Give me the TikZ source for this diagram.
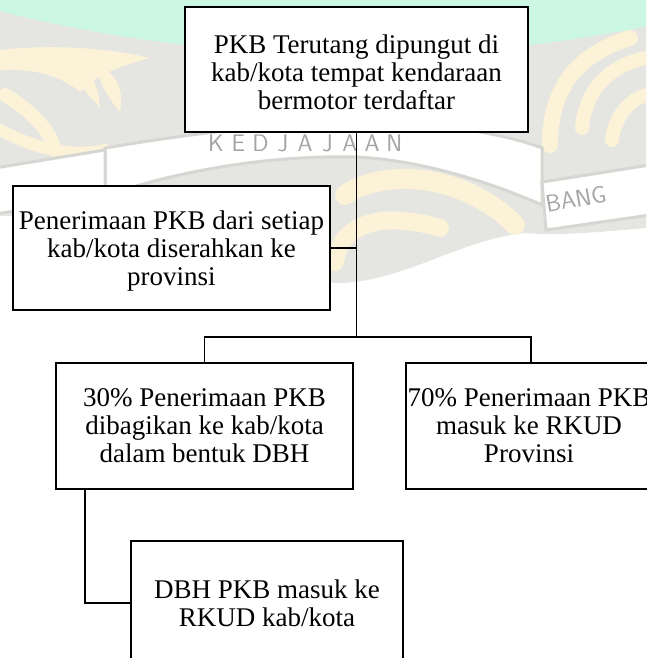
\documentclass[tikz,border=0pt]{standalone}
\usepackage{fontspec}
\setmainfont{Liberation Serif}
\definecolor{mint}{RGB}{204,247,226}
\definecolor{yel}{RGB}{252,242,216}
\definecolor{wmgrey}{RGB}{229,229,225}
\definecolor{ribbon}{RGB}{214,214,210}
\definecolor{wmtext}{RGB}{165,165,165}
\begin{document}
\begin{tikzpicture}[x=1pt,y=-1pt,
  box/.style={draw=black,line width=1.9pt,fill=white,inner sep=0pt},
  txt/.style={align=center,inner sep=0pt,font=\fontsize{27}{28}\selectfont},
  conn/.style={draw=black,line width=1.9pt},
  wm/.style={font=\sffamily\fontsize{24}{24}\selectfont,text=wmtext,inner sep=0pt},
  swirl/.style={draw=yel,line cap=round}]
\useasboundingbox (0,0) rectangle (646,658);
% ---- faint watermark ----
\begin{scope}
\clip (0,0) rectangle (646,658);
\fill[wmgrey] (0,0) -- (646,0) -- (646,228) .. controls (600,232) and (560,236) .. (525,233)
  .. controls (460,240) and (410,278) .. (345,283) .. controls (300,286) and (255,240) .. (200,216)
  -- (0,216) -- cycle;
\fill[mint] (357,-1408) circle[radius=1463pt];
% left swirls
\fill[yel] (0,50) .. controls (50,44) and (110,48) .. (150,58) .. controls (120,66) and (95,75) .. (80,92)
  .. controls (60,75) and (30,68) .. (0,70) -- cycle;
\fill[yel] (62,58) .. controls (80,55) and (98,75) .. (100,108) .. controls (90,95) and (72,80) .. (62,58) -- cycle;
\fill[yel] (95,65) .. controls (115,70) and (125,90) .. (120,112) .. controls (110,100) and (100,85) .. (95,65) -- cycle;
\draw[swirl,line width=14pt] (5,95) .. controls (30,110) and (50,130) .. (55,150);
\draw[swirl,line width=12pt] (0,130) .. controls (20,140) and (60,160) .. (105,150);
% right swirls
\draw[swirl,line width=16pt] (550,145) .. controls (550,90) and (575,55) .. (630,38);
\draw[swirl,line width=14pt] (582,128) .. controls (585,90) and (610,65) .. (646,58);
\draw[swirl,line width=14pt] (612,140) .. controls (615,115) and (630,100) .. (646,95);
% centre swirls
\draw[swirl,line width=20pt] (345,195) .. controls (380,170) and (460,170) .. (515,225);
\draw[swirl,line width=18pt] (335,262) .. controls (340,225) and (380,210) .. (440,228);
% ribbon
\filldraw[fill=white,draw=ribbon,line width=3pt] (105,148) .. controls (200,132) and (290,122) .. (357,122)
  .. controls (430,122) and (500,132) .. (542,148) -- (542,205) .. controls (490,182) and (420,160) .. (357,157)
  .. controls (270,155) and (180,170) .. (105,196) -- cycle;
\filldraw[fill=white,draw=ribbon,line width=3pt] (542,182) -- (650,165) -- (650,215) -- (546,230) -- cycle;
\filldraw[fill=white,draw=ribbon,line width=3pt] (-5,168) -- (105,150) -- (105,198) -- (-5,214) -- cycle;
\foreach \l [count=\i from 0] in {K,E,D,J,A,J,A,A,N}
  \node[wm] (wl\i) at (216+\i*22.3,143) {\l};
\node[wm,rotate=10] (bang) at (576,199) {BANG};
\end{scope}
% ---- diagram ----
\node[box,minimum width=343pt,minimum height=125pt] (top) at (356.5,69.5) {};
\node[box,minimum width=317pt,minimum height=124pt] (b2) at (171.5,248) {};
\node[box,minimum width=297pt,minimum height=126pt] (b3) at (204.5,426) {};
\node[box,minimum width=244pt,minimum height=126pt] (b4) at (528,426) {};
\node[box,minimum width=272pt,minimum height=124pt] (b5) at (267,603) {};
\node[txt] (t1) at ([yshift=-3pt]top.center) {PKB Terutang dipungut di\\kab/kota tempat kendaraan\\bermotor terdaftar};
\node[txt] (t2) at ([yshift=-3pt]b2.center) {Penerimaan PKB dari setiap\\kab/kota diserahkan ke\\provinsi};
\node[txt] (t3) at (b3.center) {30\% Penerimaan PKB\\dibagikan ke kab/kota\\dalam bentuk DBH};
\node[txt] (t4) at ([xshift=1pt]b4.center) {70\% Penerimaan PKB\\masuk ke RKUD\\Provinsi};
\node[txt] (t5) at (b5.center) {DBH PKB masuk ke\\RKUD kab/kota};
\coordinate (jn) at (356.5,337);
\coordinate (d4) at ([xshift=3pt]b4.north);
\coordinate (d3) at ([xshift=30pt]b3.south west);
\draw[conn] (top.south) -- (jn);
\draw[conn] (b3.north) |- (jn) -| (d4);
\draw[conn] (b2.east) -- (b2.east -| top.south);
\draw[conn] (d3) |- (b5.west);
\end{tikzpicture}
\end{document}
